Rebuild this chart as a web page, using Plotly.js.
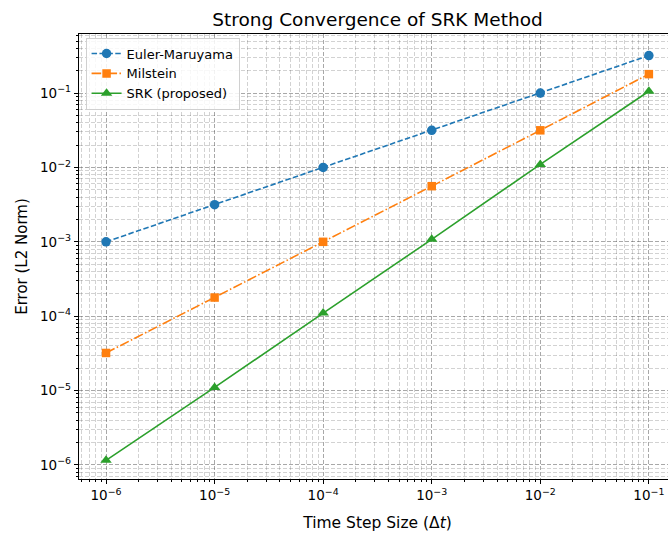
<!DOCTYPE html>
<html>
<head>
<meta charset="utf-8">
<script src="https://cdn.plot.ly/plotly-3.0.1.min.js"></script>
<style>
html,body{margin:0;padding:0;overflow:hidden;background:#fff;}
#chart{width:690px;height:533px;}
</style>
</head>
<body>
<div id="chart"></div>
<script>
const dt = [1e-6, 1e-5, 1e-4, 1e-3, 1e-2, 1e-1];
const eulerMaruyama = [1.0e-3, 3.16e-3, 1.0e-2, 3.16e-2, 1.0e-1, 3.2e-1];
const milstein = [3.2e-5, 1.78e-4, 1.0e-3, 5.6e-3, 3.16e-2, 1.8e-1];
const srk = [1.15e-6, 1.1e-5, 1.1e-4, 1.08e-3, 1.1e-2, 1.06e-1];
const seriesNames = ['Euler-Maruyama', 'Milstein', 'SRK (proposed)'];
const xTickVals = [1e-6, 1e-5, 1e-4, 1e-3, 1e-2, 1e-1];
const xTickText = ['10<sup>−6</sup>', '10<sup>−5</sup>', '10<sup>−4</sup>', '10<sup>−3</sup>', '10<sup>−2</sup>', '10<sup>−1</sup>'];
const yTickVals = [1e-6, 1e-5, 1e-4, 1e-3, 1e-2, 1e-1];
const yTickText = ['10<sup>−6</sup>', '10<sup>−5</sup>', '10<sup>−4</sup>', '10<sup>−3</sup>', '10<sup>−2</sup>', '10<sup>−1</sup>'];

const traces = [
  {x: dt, y: eulerMaruyama, name: seriesNames[0], mode: 'lines+markers',
   line: {color: '#1f77b4', width: 1.6, dash: '5.5px,2.4px'},
   marker: {color: '#1f77b4', symbol: 'circle', size: 9.5}},
  {x: dt, y: milstein, name: seriesNames[1], mode: 'lines+markers',
   line: {color: '#ff7f0e', width: 1.6, dash: '9.6px,2.4px,1.5px,2.4px'},
   marker: {color: '#ff7f0e', symbol: 'square', size: 8.5}},
  {x: dt, y: srk, name: seriesNames[2], mode: 'lines+markers',
   line: {color: '#2ca02c', width: 1.6, dash: 'solid'},
   marker: {color: '#2ca02c', symbol: 'triangle-up', size: 10}}
];

const gridCol = 'rgba(0,0,0,0.25)';
const gridDash = '4px,2px';
const font = 'DejaVu Sans, sans-serif';

const layout = {
  width: 690, height: 533,
  margin: {l: 79, r: 14, t: 34, b: 54},
  paper_bgcolor: '#fff', plot_bgcolor: '#fff',
  font: {family: font, size: 13, color: '#000'},
  title: {text: 'Strong Convergence of SRK Method', font: {family: font, size: 18.5, color: '#000'},
          x: 0.5, xref: 'paper', xanchor: 'center', y: 0.963, yanchor: 'middle'},
  showlegend: true,
  legend: {x: 0.011, y: 0.992, xanchor: 'left', yanchor: 'top',
           bgcolor: 'rgba(255,255,255,0.85)', bordercolor: '#d0d0d0', borderwidth: 1,
           font: {family: font, size: 13}},
  xaxis: {
    type: 'log', range: [-6.249, -0.75],
    tickvals: xTickVals, ticktext: xTickText,
    ticks: 'outside', ticklen: 4, tickcolor: '#000', tickfont: {family: font, size: 13.5},
    showline: true, linecolor: '#000', linewidth: 1.2, mirror: true,
    showgrid: true, gridcolor: gridCol, griddash: gridDash, gridwidth: 0.8,
    zeroline: false,
    minor: {dtick: 'D1', ticks: 'outside', ticklen: 2, tickcolor: '#000',
            showgrid: true, gridcolor: gridCol, griddash: gridDash, gridwidth: 0.7},
    title: {text: 'Time Step Size (Δ<i>t</i>)', font: {family: font, size: 15.5}, standoff: 14}
  },
  yaxis: {
    type: 'log', range: [-6.19, -0.205],
    tickvals: yTickVals, ticktext: yTickText,
    ticks: 'outside', ticklen: 4, tickcolor: '#000', tickfont: {family: font, size: 13.5},
    showline: true, linecolor: '#000', linewidth: 1.2, mirror: true,
    showgrid: true, gridcolor: gridCol, griddash: gridDash, gridwidth: 0.8,
    zeroline: false,
    minor: {dtick: 'D1', ticks: 'outside', ticklen: 2, tickcolor: '#000',
            showgrid: true, gridcolor: gridCol, griddash: gridDash, gridwidth: 0.7},
    title: {text: 'Error (L2 Norm)', font: {family: font, size: 15}, standoff: 8}
  }
};

Plotly.newPlot('chart', traces, layout, {displayModeBar: false, staticPlot: true});
</script>
</body>
</html>
